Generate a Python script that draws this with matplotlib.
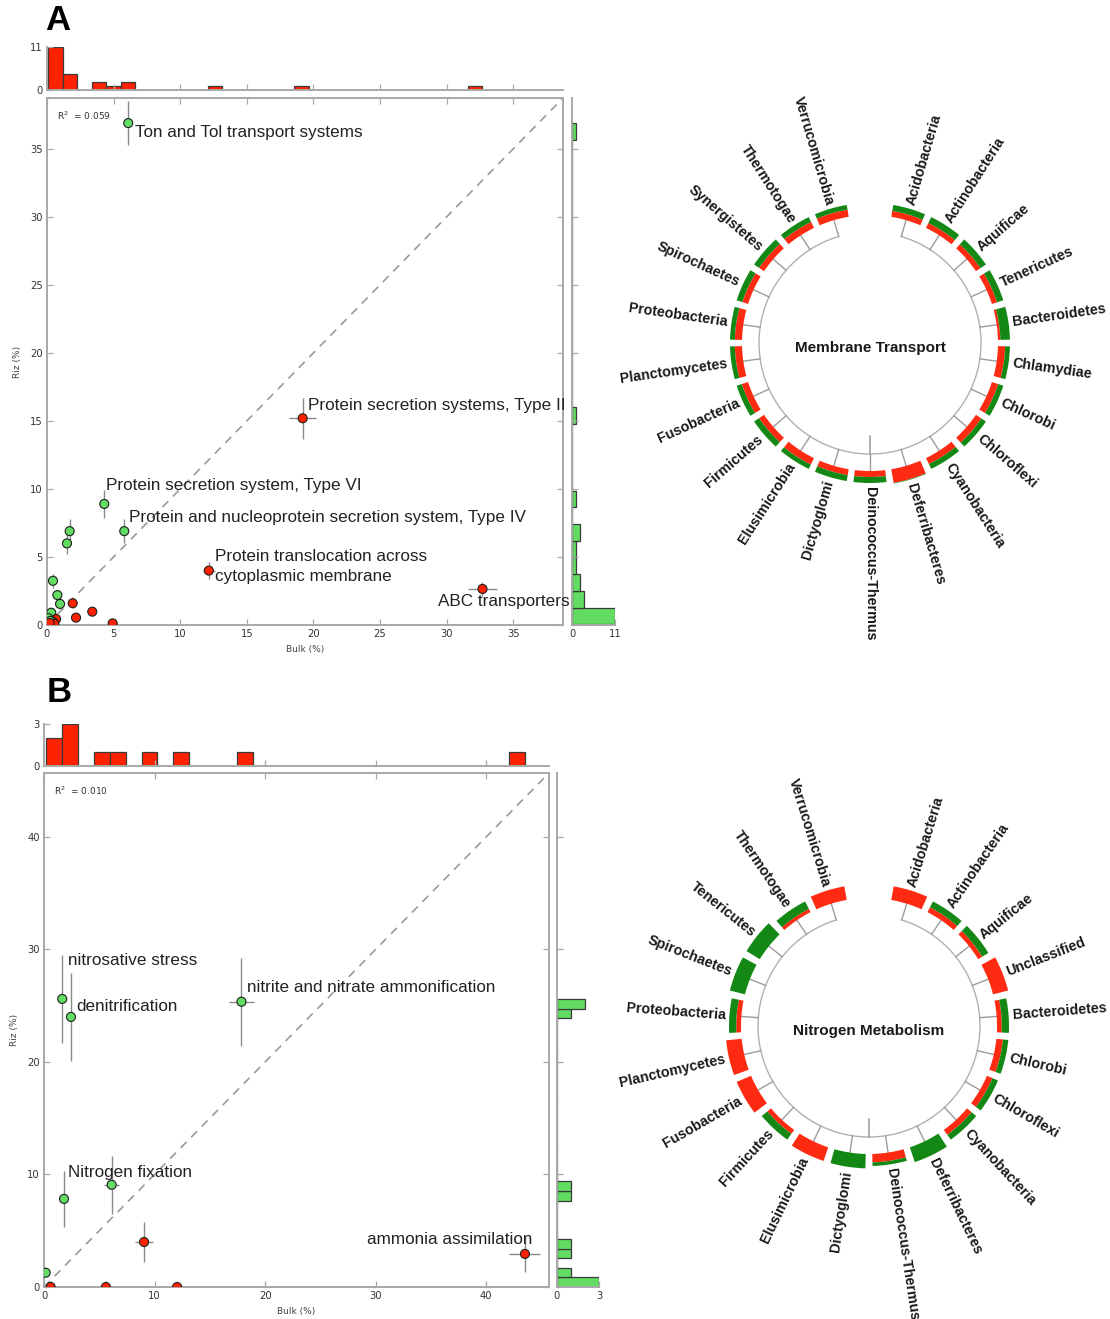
import numpy as np
import matplotlib
matplotlib.use("Agg")
import matplotlib.pyplot as plt
from matplotlib.patches import Wedge

# ---------------- Panel A : Membrane transport (scatter) ----------------
bulk_A = [6.1, 4.3, 5.8, 1.7, 1.5, 0.45, 0.78, 0.98, 0.32, 0.1,
          19.2, 12.15, 32.7, 1.93, 2.18, 3.4, 4.93, 0.68, 0.43, 0.1, 0.25, 0.55, 0.2]
riz_A = [36.9, 8.9, 6.9, 6.9, 6.0, 3.25, 2.2, 1.55, 0.9, 0.5,
         15.2, 4.0, 2.65, 1.6, 0.54, 0.98, 0.12, 0.44, 0.25, 0.05, 0.3, 0.1, 0.15]
bulk_err_A = [0.15, 0.15, 0.15, 0.1, 0.1, 0.05, 0.05, 0.05, 0.05, 0.02,
              1.0, 0.45, 1.1, 0.15, 0.15, 0.2, 0.2, 0.05, 0.05, 0.02, 0.02, 0.05, 0.02]
riz_err_A = [1.6, 1.0, 0.9, 0.9, 0.8, 0.5, 0.4, 0.35, 0.3, 0.1,
             1.5, 0.6, 0.5, 0.35, 0.2, 0.25, 0.1, 0.1, 0.05, 0.02, 0.05, 0.05, 0.05]
label_idx_A = [0, 10, 1, 2, 11, 12]
label_text_A = ["Ton and Tol transport systems",
                "Protein secretion systems, Type II",
                "Protein secretion system, Type VI",
                "Protein and nucleoprotein secretion system, Type IV",
                "Protein translocation across\ncytoplasmic membrane",
                "ABC transporters"]
r2_A = "0.059"

# ---------------- Panel A : circular phylum plot ----------------
taxa_A = ["Acidobacteria", "Actinobacteria", "Aquificae", "Tenericutes", "Bacteroidetes",
          "Chlamydiae", "Chlorobi", "Chloroflexi", "Cyanobacteria", "Deferribacteres",
          "Deinococcus-Thermus", "Dictyoglomi", "Elusimicrobia", "Firmicutes", "Fusobacteria",
          "Planctomycetes", "Proteobacteria", "Spirochaetes", "Synergistetes", "Thermotogae",
          "Verrucomicrobia"]
red_A = [0.5, 0.45, 0.45, 0.45, 0.2, 0.6, 0.55, 0.55, 0.55, 1.15,
         0.5, 0.5, 0.6, 0.5, 0.55, 0.6, 0.6, 0.5, 0.5, 0.55, 0.6]
green_A = [0.5, 0.55, 0.55, 0.55, 0.8, 0.4, 0.45, 0.45, 0.45, 0.05,
           0.5, 0.5, 0.4, 0.5, 0.45, 0.4, 0.4, 0.5, 0.5, 0.45, 0.4]
title_A = "Membrane Transport"

# ---------------- Panel B : Nitrogen metabolism (scatter) ----------------
bulk_B = [1.65, 2.44, 17.86, 1.81, 6.12, 0.15, 9.05, 43.5, 0.6, 5.6, 12.04]
riz_B = [25.6, 24.0, 25.35, 7.83, 9.08, 1.27, 4.0, 2.94, 0.0, 0.0, 0.0]
bulk_err_B = [0.05, 0.05, 1.1, 0.05, 0.7, 0.05, 0.85, 1.4, 0.15, 0.2, 0.15]
riz_err_B = [3.9, 3.9, 3.9, 2.5, 2.6, 0.3, 1.8, 1.6, 0.5, 0.5, 0.3]
label_idx_B = [0, 1, 2, 3, 7]
label_text_B = ["nitrosative stress", "denitrification",
                "nitrite and nitrate ammonification", "Nitrogen fixation",
                "ammonia assimilation"]
r2_B = "0.010"

# ---------------- Panel B : circular phylum plot ----------------
taxa_B = ["Acidobacteria", "Actinobacteria", "Aquificae", "Unclassified", "Bacteroidetes",
          "Chlorobi", "Chloroflexi", "Cyanobacteria", "Deferribacteres", "Deinococcus-Thermus",
          "Dictyoglomi", "Elusimicrobia", "Firmicutes", "Fusobacteria", "Planctomycetes",
          "Proteobacteria", "Spirochaetes", "Tenericutes", "Thermotogae", "Verrucomicrobia"]
red_B = [1.15, 0.45, 0.4, 1.3, 0.4, 0.55, 0.5, 0.5, 0.0, 0.7,
         0.0, 1.2, 0.4, 1.3, 1.3, 0.4, 0.0, 0.0, 0.3, 1.15]
green_B = [0.0, 0.55, 0.6, 0.0, 0.6, 0.45, 0.5, 0.5, 1.3, 0.3,
           1.2, 0.0, 0.6, 0.0, 0.0, 0.6, 1.3, 1.3, 0.7, 0.0]
title_B = "Nitrogen Metabolism"

# ---------------- styling ----------------
RED = "#ff2200"
GREEN = "#62dc62"
BLOCK_RED = "#ff2a12"
BLOCK_GREEN = "#148814"
SPINE = "#a8a8a8"
W, H = 1110, 1319

plt.rcParams["font.family"] = ["DejaVu Sans"]
fig = plt.figure(figsize=(W / 100, H / 100), dpi=100)
fig.patch.set_facecolor("white")


def px_axes(l, t, r, b):
    return fig.add_axes([l / W, 1 - b / H, (r - l) / W, (b - t) / H])


def style_spines(ax, which):
    for s, sp in ax.spines.items():
        sp.set_visible(s in which)
        sp.set_color(SPINE)
        sp.set_linewidth(1.4)


def scatter_panel(box, top_box, right_box, bulk, riz, berr, rerr, r2,
                  lab_idx, lab_txt, offsets, tick_step):
    bulk = np.asarray(bulk); riz = np.asarray(riz)
    lim = 1.05 * max(bulk.max(), riz.max())
    ax = px_axes(*box)
    ax.set_xlim(0, lim); ax.set_ylim(0, lim)
    ax.plot([0, lim], [0, lim], ls=(0, (5, 4)), color="#9a9a9a", lw=1.2, zorder=1)
    ax.errorbar(bulk, riz, xerr=berr, yerr=rerr, fmt="none", ecolor="#8a8a8a",
                elinewidth=1.0, capsize=0, zorder=2)
    colors = [GREEN if r > b else RED for b, r in zip(bulk, riz)]
    ax.scatter(bulk, riz, c=colors, s=42, edgecolors="#1e1e1e", linewidths=0.8, zorder=3)
    ticks = np.arange(0, lim, tick_step)
    ax.set_xticks(ticks); ax.set_yticks(ticks)
    ax.set_xticklabels([f"{t:g}" for t in ticks]); ax.set_yticklabels([f"{t:g}" for t in ticks])
    ax.tick_params(direction="in", top=True, right=True, length=4, width=0.9,
                   color=SPINE, labelsize=7.2, labelcolor="#333333", pad=3)
    style_spines(ax, ["left", "right", "top", "bottom"])
    ax.set_xlabel("Bulk (%)", fontsize=6.5, color="#444444", labelpad=4)
    ax.set_ylabel("Riz (%)", fontsize=6.5, color="#444444", labelpad=6)
    ax.text(0.019, 0.966, r"R$^2$  = " + r2, transform=ax.transAxes,
            fontsize=6.5, color="#333333", va="center")
    for i, txt, (dx, dy, ha) in zip(lab_idx, lab_txt, offsets):
        ax.annotate(txt, (bulk[i], riz[i]), xytext=(dx, dy), textcoords="offset pixels",
                    ha=ha, va="center", fontsize=12.3, family="Liberation Sans",
                    color="#222222", linespacing=1.45, zorder=4)

    # top histogram of bulk values
    axt = px_axes(*top_box)
    counts, _, _ = axt.hist(bulk, bins=30, color=RED, edgecolor="#3a3a3a", linewidth=0.9)
    axt.set_xlim(0, lim); axt.set_ylim(0, counts.max())
    axt.set_xticks(ticks); axt.set_xticklabels([])
    axt.set_yticks([0, counts.max()]); axt.set_yticklabels(["0", f"{int(counts.max())}"])
    axt.tick_params(direction="in", length=4, width=0.9, color=SPINE,
                    labelsize=7.2, labelcolor="#333333", pad=3)
    style_spines(axt, ["left", "bottom"])
    axt.patch.set_alpha(0)

    # right histogram of riz values
    axr = px_axes(*right_box)
    counts2, _, _ = axr.hist(riz, bins=30, orientation="horizontal", color=GREEN,
                             edgecolor="#3a3a3a", linewidth=0.9)
    axr.set_ylim(0, lim); axr.set_xlim(0, counts2.max())
    axr.set_yticks(ticks); axr.set_yticklabels([])
    axr.set_xticks([0, counts2.max()]); axr.set_xticklabels(["0", f"{int(counts2.max())}"])
    axr.tick_params(direction="in", length=4, width=0.9, color=SPINE,
                    labelsize=7.2, labelcolor="#333333", pad=3)
    style_spines(axr, ["left", "bottom"])
    axr.patch.set_alpha(0)
    return ax


def circle_panel(cx, cy, taxa, red, green, title):
    hw, hh = 260, 330
    ax = fig.add_axes([(cx - hw) / W, 1 - (cy + hh) / H, 2 * hw / W, 2 * hh / H])
    ax.set_xlim(-hw, hw); ax.set_ylim(-hh, hh)
    ax.axis("off")
    n = len(taxa)
    slot = 360.0 / (n + 1)
    r0, r_in, T = 111.0, 128.0, 12.0
    bw = 0.83 * slot
    # arc of the tree
    thc = np.linspace(slot, n * slot, 400)
    ph = np.deg2rad(90 - thc)
    ax.plot(r0 * np.cos(ph), r0 * np.sin(ph), color="#b0b0b0", lw=1.0, zorder=1)
    # root
    ax.plot([0, 0], [-93, -r0], color="#9a9a9a", lw=1.1, zorder=1)
    for i, name in enumerate(taxa):
        phi = 90 - (i + 1) * slot
        pr = np.deg2rad(phi)
        c, s = np.cos(pr), np.sin(pr)
        ax.plot([r0 * c, r_in * c], [r0 * s, r_in * s], color="#9c9c9c", lw=1.0, zorder=1)
        rr = red[i] * T
        gg = green[i] * T
        if rr > 0:
            ax.add_patch(Wedge((0, 0), r_in + rr, phi - bw / 2, phi + bw / 2, width=rr,
                               facecolor=BLOCK_RED, edgecolor="none", zorder=2))
        if gg > 0:
            ax.add_patch(Wedge((0, 0), r_in + rr + gg, phi - bw / 2, phi + bw / 2, width=gg,
                               facecolor=BLOCK_GREEN, edgecolor="none", zorder=2))
        rl = r_in + rr + gg + 4
        if c > -1e-6:
            rot, ha = phi, "left"
        else:
            rot, ha = phi + 180, "right"
        ax.text(rl * c, rl * s, name, rotation=rot, rotation_mode="anchor", ha=ha,
                va="center", fontsize=10.3, fontweight="bold", family="Liberation Sans",
                color="#1a1a1a")
    ax.text(0, -5, title, ha="center", va="center", fontsize=11, fontweight="bold",
            family="Liberation Sans", color="#1a1a1a")


offsets_A = [(7, -9, "left"), (5, 13, "left"), (2, 18, "left"), (5, 14, "left"),
             (6, 4, "left"), (-44, -13, "left")]
offsets_B = [(6, 38, "left"), (5, 10, "left"), (6, 14, "left"), (4, 26, "left"),
             (7, 14, "right")]

scatter_panel((47, 98, 563, 625), (47, 47, 563, 90), (572, 98, 615, 625),
              bulk_A, riz_A, bulk_err_A, riz_err_A, r2_A,
              label_idx_A, label_text_A, offsets_A, 5)
scatter_panel((44, 773, 549, 1287), (44, 724, 549, 766), (557, 773, 599, 1287),
              bulk_B, riz_B, bulk_err_B, riz_err_B, r2_B,
              label_idx_B, label_text_B, offsets_B, 10)

circle_panel(870, 343, taxa_A, red_A, green_A, title_A)
circle_panel(869, 1026, taxa_B, red_B, green_B, title_B)

fig.text(45 / W, 1 - 20 / H, "A", fontsize=25, fontweight="bold", family="Liberation Sans",
         va="center", ha="left")
fig.text(47 / W, 1 - 693 / H, "B", fontsize=25, fontweight="bold", family="Liberation Sans",
         va="center", ha="left")

fig.savefig("out.png", dpi=100, facecolor="white")
